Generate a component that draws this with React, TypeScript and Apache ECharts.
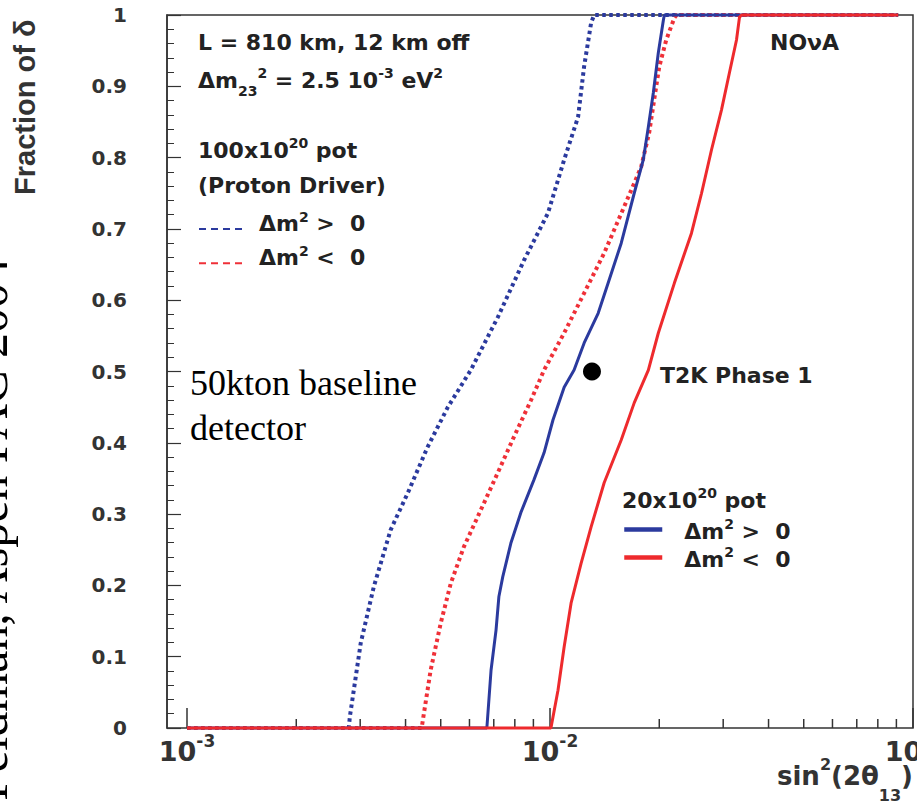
import React, { useEffect, useRef } from "react";
import * as echarts from "echarts";

// ---- data (sin^2(2θ13), fraction of δ) ----
const blueDot100X = [0.001, 0.00279, 0.00281, 0.00301, 0.00327, 0.00364, 0.00406, 0.0046, 0.00523, 0.00605, 0.00718, 0.00848, 0.00987, 0.01094, 0.01195, 0.01241, 0.01298, 0.01323, 0.091];
const blueDot100Y = [0, 0, 0.016, 0.119, 0.198, 0.278, 0.33, 0.394, 0.45, 0.502, 0.576, 0.656, 0.722, 0.797, 0.857, 0.927, 0.989, 1, 1];

const redDot100X = [0.001, 0.00443, 0.00469, 0.005, 0.00533, 0.00579, 0.00645, 0.00718, 0.00795, 0.00887, 0.00963, 0.01094, 0.01242, 0.0141, 0.016, 0.01783, 0.01876, 0.01936, 0.01999, 0.0209, 0.02201, 0.0223, 0.091];
const redDot100Y = [0, 0, 0.081, 0.147, 0.203, 0.254, 0.306, 0.358, 0.408, 0.46, 0.502, 0.554, 0.61, 0.666, 0.731, 0.787, 0.835, 0.881, 0.927, 0.965, 0.996, 1, 1];

const blueSolid20X = [0.001, 0.0067, 0.00688, 0.0071, 0.00723, 0.00741, 0.0078, 0.00831, 0.00903, 0.00963, 0.01019, 0.01094, 0.01165, 0.01242, 0.01358, 0.01446, 0.01571, 0.01706, 0.01807, 0.01866, 0.01926, 0.01988, 0.02053, 0.02065, 0.091];
const blueSolid20Y = [0, 0, 0.081, 0.137, 0.184, 0.212, 0.259, 0.302, 0.348, 0.386, 0.432, 0.478, 0.502, 0.54, 0.582, 0.624, 0.68, 0.75, 0.797, 0.843, 0.891, 0.947, 0.993, 1, 1];

const redSolid20X = [0.001, 0.01006, 0.01052, 0.01094, 0.01143, 0.01218, 0.01298, 0.0141, 0.01571, 0.01706, 0.01866, 0.01988, 0.02201, 0.02453, 0.02615, 0.02786, 0.02968, 0.03121, 0.03264, 0.03327, 0.03371, 0.091];
const redSolid20Y = [0, 0, 0.053, 0.114, 0.175, 0.231, 0.282, 0.344, 0.404, 0.456, 0.502, 0.554, 0.624, 0.694, 0.75, 0.811, 0.867, 0.919, 0.965, 0.997, 1, 1];

const t2kPhase1X = [0.01305];
const t2kPhase1Y = [0.5];

const xMinorTicks = [0.002, 0.003, 0.004, 0.005, 0.006, 0.007, 0.008, 0.009, 0.02, 0.03, 0.04, 0.05, 0.06, 0.07, 0.08, 0.09];

const X_MIN = 0.001;
const X_MAX = 0.1;
const Y_MIN = 0;
const Y_MAX = 1;
const Y_STEP = 0.1;

const SERIES_NAMES = ["pd_pos", "pd_neg", "t2k_pos", "t2k_neg"];

// ---- styles ----
const BLUE = "#2b3a9e";
const RED = "#ee2a2d";
const RED_DOT = "#ef3038";
const INK = "#222";
const AXIS = "#333";
const SANS = "DejaVu Sans";

const GRID = { left: 187, right: 4, top: 15, bottom: 82 };
const FRAME_LEFT = 167;
const W = 917;
const H = 810;

const zip = (xs: number[], ys: number[]) => xs.map((x, i) => [x, ys[i]]);

// rich text set: all tokens top-aligned, vertical placement via top padding
function richSet(F: number, S: number, supOff: number, subOff: number, family: string, weight: string, color: string) {
  const mainCenter = Math.max(F / 2, S / 2 + supOff);
  const base = { fontFamily: family, fontWeight: weight, fill: color, color, verticalAlign: "top" };
  return {
    center: mainCenter,
    rich: {
      m: { ...base, fontSize: F, padding: [mainCenter - F / 2, 0, 0, 0] },
      s: { ...base, fontSize: S, padding: [mainCenter - supOff - S / 2, 0, 0, 0] },
      u: { ...base, fontSize: S, padding: [mainCenter + subOff - S / 2, 0, 0, 0] },
    },
  };
}

const r22 = richSet(22, 14, 7, 11, SANS, "bold", INK);

function gText(text: string, x: number, centerY: number, rs: any, align = "left") {
  return {
    type: "text",
    x,
    y: centerY - rs.center,
    silent: true,
    style: {
      text,
      rich: rs.rich,
      align,
      textAlign: align,
      verticalAlign: "top",
      textVerticalAlign: "top",
      fill: INK,
    },
  };
}

function plainText(text: string, x: number, y: number, font: { size: number; family: string; weight: string; color: string }, opts: any = {}) {
  return {
    type: "text",
    x,
    y,
    rotation: opts.rotation || 0,
    silent: true,
    style: {
      text,
      fontSize: font.size,
      fontFamily: font.family,
      fontWeight: font.weight,
      fill: font.color,
      align: opts.align || "left",
      textAlign: opts.align || "left",
      verticalAlign: "middle",
      textVerticalAlign: "middle",
    },
  };
}

const legendRS = richSet(22, 14, 7, 11, SANS, "bold", INK);

const legendFormatter = (name: string) =>
  name.endsWith("pos") ? "{m|Δm}{s|2}{m| >  0}" : "{m|Δm}{s|2}{m| <  0}";

const axisRS = richSet(27, 17, 10, 0, SANS, "bold", AXIS);

const option: any = {
  animation: false,
  backgroundColor: "#fff",
  grid: { ...GRID, show: false, outerBoundsMode: "none", containLabel: false },
  xAxis: [
    {
      type: "log",
      logBase: 10,
      min: X_MIN,
      max: X_MAX,
      axisLine: { show: false },
      axisTick: { show: true, inside: true, length: 20, lineStyle: { color: AXIS, width: 1.5 } },
      minorTick: { show: false },
      splitLine: { show: false },
      axisLabel: {
        margin: 751 - (H - GRID.bottom) - axisRS.center,
        formatter: (v: number) => {
          const e = Math.log10(v);
          if (Math.abs(e - Math.round(e)) > 1e-6) return "";
          return "{m|10}{s|" + Math.round(e) + "}";
        },
        rich: axisRS.rich,
      },
    },
  ],
  yAxis: {
    type: "value",
    min: Y_MIN,
    max: Y_MAX,
    interval: Y_STEP,
    offset: GRID.left - FRAME_LEFT,
    axisLine: { show: true, lineStyle: { color: AXIS, width: 1.5 } },
    axisTick: { show: true, inside: true, length: 14, lineStyle: { color: AXIS, width: 1.2 } },
    minorTick: { show: true, splitNumber: 5, length: 7, lineStyle: { color: AXIS, width: 1 } },
    splitLine: { show: false },
    axisLabel: { margin: 40, fontFamily: SANS, fontWeight: "bold", fontSize: 20, color: AXIS },
  },
  legend: [
    {
      show: true,
      selectedMode: false,
      data: ["pd_pos", "pd_neg"],
      orient: "vertical",
      left: 198,
      top: 228 - 18.5,
      padding: 0,
      itemGap: 0,
      itemWidth: 44,
      itemHeight: 37,
      lineStyle: { width: 2, type: [7, 5] },
      itemStyle: { opacity: 0 },
      formatter: legendFormatter,
      textStyle: { padding: [0, 0, 14, 11], rich: legendRS.rich },
    },
    {
      show: true,
      selectedMode: false,
      data: ["t2k_pos", "t2k_neg"],
      orient: "vertical",
      left: 622,
      top: 533 - 17.5,
      padding: 0,
      itemGap: 0,
      itemWidth: 38,
      itemHeight: 35,
      lineStyle: { width: 4.5, type: "solid" },
      itemStyle: { opacity: 0 },
      formatter: legendFormatter,
      textStyle: { padding: [0, 0, 0, 17], rich: legendRS.rich },
    },
  ],
  series: [
    {
      type: "scatter",
      name: "xticks",
      data: xMinorTicks.map((x) => [x, Y_MIN]),
      symbol: "rect",
      symbolSize: [1.5, 9],
      symbolOffset: [0, -4.5],
      itemStyle: { color: AXIS, opacity: 1 },
      silent: true,
      clip: false,
      z: 1,
    },
    {
      type: "line",
      name: SERIES_NAMES[0],
      data: zip(blueDot100X, blueDot100Y),
      symbol: "none",
      showSymbol: false,
      clip: false,
      lineStyle: { color: BLUE, width: 4, type: [3.5, 3.5] },
      itemStyle: { color: BLUE },
      z: 2,
    },
    {
      type: "line",
      name: SERIES_NAMES[1],
      data: zip(redDot100X, redDot100Y),
      symbol: "none",
      showSymbol: false,
      clip: false,
      lineStyle: { color: RED_DOT, width: 4, type: [3.5, 3.5] },
      itemStyle: { color: RED_DOT },
      z: 3,
    },
    {
      type: "line",
      name: SERIES_NAMES[2],
      data: zip(blueSolid20X, blueSolid20Y),
      symbol: "none",
      showSymbol: false,
      clip: false,
      lineStyle: { color: BLUE, width: 3 },
      itemStyle: { color: BLUE },
      z: 4,
    },
    {
      type: "line",
      name: SERIES_NAMES[3],
      data: zip(redSolid20X, redSolid20Y),
      symbol: "none",
      showSymbol: false,
      clip: false,
      lineStyle: { color: RED, width: 3 },
      itemStyle: { color: RED },
      z: 5,
    },
    {
      type: "scatter",
      name: "T2K Phase 1",
      data: zip(t2kPhase1X, t2kPhase1Y),
      symbol: "circle",
      symbolSize: 18,
      itemStyle: { color: "#000", opacity: 1 },
      z: 6,
    },
  ],
  graphic: [
    {
      type: "rect",
      silent: true,
      z: 0,
      shape: { x: FRAME_LEFT, y: GRID.top, width: W - GRID.right - FRAME_LEFT, height: H - GRID.top - GRID.bottom },
      style: { fill: "none", stroke: AXIS, lineWidth: 1.5 },
    },
    plainText("Fraction of δ", 25, 195, { size: 29, family: "Liberation Sans", weight: "bold", color: "#333" }, { rotation: Math.PI / 2, align: "left" }),
    plainText("Feldman, Aspen PAC 2004", -10, 258, { size: 50, family: "Liberation Serif", weight: "normal", color: "#000" }, { rotation: Math.PI / 2, align: "right" }),
    gText("{m|L = 810 km, 12 km off}", 198, 42, r22),
    gText("{m|Δm}{u|23}{s|2}{m| = 2.5 10}{s|-3}{m| eV}{s|2}", 198, 80, r22),
    gText("{m|100x10}{s|20}{m| pot}", 198, 150, r22),
    gText("{m|(Proton Driver)}", 198, 185, r22),
    gText("{m|NOνA}", 770, 42, r22),
    gText("{m|T2K Phase 1}", 660, 375, r22),
    gText("{m|20x10}{s|20}{m| pot}", 622, 500, r22),
    plainText("50kton baseline", 190, 383, { size: 36, family: "Liberation Serif", weight: "normal", color: "#000" }),
    plainText("detector", 190, 428, { size: 36, family: "Liberation Serif", weight: "normal", color: "#000" }),
    gText("{m|sin}{s|2}{m|(2θ}{u|13}{m|)}", 913, 776, richSet(26, 16, 12, 19, SANS, "bold", AXIS), "right"),
  ],
};

export default function App() {
  const ref = useRef<HTMLDivElement>(null);
  useEffect(() => {
    if (!ref.current) return;
    const chart = echarts.init(ref.current, null, { renderer: "svg" });
    chart.setOption(option);
    return () => chart.dispose();
  }, []);
  return (
    <div
      ref={ref}
      style={{ position: "absolute", left: 0, top: 0, width: W, height: H, background: "#fff", overflow: "hidden" }}
    />
  );
}
